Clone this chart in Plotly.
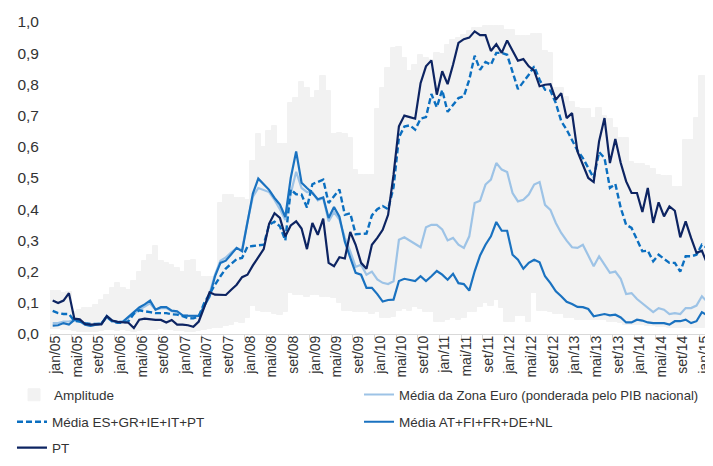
import plotly.graph_objects as go

MONTH_ABBR = ["jan", "fev", "mar", "abr", "mai", "jun", "jul", "ago", "set", "out", "nov", "dez"]
months = [f"{MONTH_ABBR[k % 12]}/{5 + k // 12:02d}" for k in range(122)]  # jan/05 .. fev/15

pt = [0.107, 0.099, 0.107, 0.131, 0.049, 0.047, 0.032, 0.030, 0.031, 0.031,
      0.057, 0.043, 0.039, 0.038, 0.036, 0.019, 0.046, 0.049, 0.046, 0.045,
      0.045, 0.037, 0.045, 0.030, 0.030, 0.028, 0.023, 0.040, 0.085, 0.134,
      0.126, 0.126, 0.125, 0.142, 0.158, 0.182, 0.190, 0.220, 0.246, 0.272,
      0.353, 0.387, 0.372, 0.313, 0.348, 0.361, 0.338, 0.272, 0.356, 0.318,
      0.370, 0.228, 0.217, 0.246, 0.242, 0.327, 0.286, 0.228, 0.209, 0.286,
      0.308, 0.334, 0.382, 0.510, 0.666, 0.700, 0.695, 0.690, 0.804, 0.858,
      0.877, 0.767, 0.842, 0.801, 0.863, 0.933, 0.945, 0.950, 0.970, 0.958,
      0.958, 0.907, 0.929, 0.901, 0.941, 0.906, 0.876, 0.881, 0.858, 0.844,
      0.794, 0.799, 0.801, 0.751, 0.772, 0.692, 0.708, 0.585, 0.543, 0.500,
      0.487, 0.618, 0.692, 0.548, 0.625, 0.548, 0.489, 0.452, 0.452, 0.391,
      0.468, 0.356, 0.422, 0.377, 0.409, 0.395, 0.310, 0.361, 0.308, 0.260,
      0.267, 0.224]

media_sul = [0.074, 0.067, 0.064, 0.064, 0.042, 0.040, 0.035, 0.032, 0.032, 0.033,
             0.055, 0.040, 0.036, 0.036, 0.041, 0.065, 0.076, 0.072, 0.070, 0.067,
             0.067, 0.067, 0.063, 0.062, 0.057, 0.051, 0.050, 0.056, 0.099, 0.130,
             0.158, 0.185, 0.210, 0.225, 0.240, 0.244, 0.280, 0.282, 0.284, 0.286,
             0.350, 0.360, 0.345, 0.300, 0.463, 0.448, 0.447, 0.405, 0.480, 0.487,
             0.495, 0.420, 0.440, 0.463, 0.382, 0.387, 0.320, 0.322, 0.322, 0.380,
             0.400, 0.410, 0.400, 0.470, 0.630, 0.665, 0.669, 0.655, 0.690, 0.695,
             0.769, 0.727, 0.782, 0.712, 0.735, 0.756, 0.762, 0.815, 0.892, 0.847,
             0.872, 0.863, 0.901, 0.901, 0.895, 0.840, 0.785, 0.808, 0.831, 0.858,
             0.815, 0.783, 0.780, 0.740, 0.682, 0.655, 0.623, 0.588, 0.564, 0.534,
             0.500, 0.583, 0.564, 0.468, 0.481, 0.404, 0.350, 0.340, 0.302, 0.265,
             0.267, 0.233, 0.254, 0.241, 0.228, 0.228, 0.200, 0.249, 0.249, 0.254,
             0.286, 0.276]

media_norte = [0.027, 0.028, 0.035, 0.030, 0.045, 0.042, 0.030, 0.026, 0.030, 0.033,
               0.058, 0.042, 0.038, 0.040, 0.055, 0.070, 0.085, 0.095, 0.107, 0.078,
               0.086, 0.086, 0.075, 0.073, 0.060, 0.059, 0.059, 0.058, 0.089, 0.120,
               0.185, 0.228, 0.235, 0.255, 0.276, 0.265, 0.360, 0.450, 0.498, 0.480,
               0.462, 0.436, 0.415, 0.375, 0.500, 0.585, 0.485, 0.468, 0.452, 0.432,
               0.438, 0.372, 0.407, 0.376, 0.296, 0.245, 0.196, 0.190, 0.148, 0.148,
               0.128, 0.104, 0.109, 0.110, 0.170, 0.177, 0.173, 0.170, 0.185, 0.170,
               0.185, 0.202, 0.190, 0.174, 0.193, 0.163, 0.160, 0.139, 0.201, 0.252,
               0.286, 0.313, 0.359, 0.331, 0.331, 0.254, 0.238, 0.209, 0.228, 0.238,
               0.230, 0.185, 0.163, 0.137, 0.121, 0.103, 0.096, 0.087, 0.086, 0.080,
               0.057, 0.060, 0.064, 0.060, 0.062, 0.053, 0.037, 0.037, 0.046, 0.043,
               0.037, 0.035, 0.035, 0.035, 0.030, 0.041, 0.041, 0.046, 0.035, 0.041,
               0.070, 0.060]

media_ze = [0.035, 0.035, 0.040, 0.040, 0.045, 0.040, 0.030, 0.027, 0.030, 0.033,
            0.056, 0.042, 0.038, 0.040, 0.052, 0.065, 0.078, 0.088, 0.098, 0.078,
            0.083, 0.083, 0.073, 0.070, 0.060, 0.058, 0.058, 0.057, 0.090, 0.130,
            0.190, 0.235, 0.245, 0.262, 0.275, 0.270, 0.360, 0.440, 0.468, 0.462,
            0.455, 0.430, 0.400, 0.365, 0.450, 0.520, 0.468, 0.455, 0.455, 0.428,
            0.436, 0.361, 0.391, 0.367, 0.308, 0.265, 0.215, 0.222, 0.190, 0.200,
            0.175, 0.164, 0.160, 0.169, 0.302, 0.310, 0.300, 0.290, 0.278, 0.342,
            0.350, 0.350, 0.335, 0.300, 0.308, 0.286, 0.276, 0.313, 0.420, 0.427,
            0.479, 0.495, 0.548, 0.527, 0.519, 0.452, 0.425, 0.430, 0.447, 0.479,
            0.487, 0.414, 0.398, 0.356, 0.324, 0.299, 0.278, 0.276, 0.286, 0.252,
            0.217, 0.249, 0.222, 0.196, 0.200, 0.177, 0.128, 0.131, 0.112, 0.097,
            0.083, 0.070, 0.083, 0.078, 0.064, 0.067, 0.064, 0.083, 0.083, 0.091,
            0.121, 0.103]

amp_max = [0.137, 0.137, 0.131, 0.135, 0.072, 0.078, 0.083, 0.083, 0.094, 0.110,
           0.126, 0.147, 0.163, 0.147, 0.142, 0.169, 0.200, 0.233, 0.254, 0.281,
           0.233, 0.228, 0.222, 0.212, 0.200, 0.233, 0.238, 0.200, 0.182, 0.182,
           0.182, 0.420, 0.446, 0.446, 0.435, 0.435, 0.430, 0.553, 0.641, 0.600,
           0.650, 0.666, 0.610, 0.610, 0.740, 0.758, 0.808, 0.788, 0.756, 0.780,
           0.826, 0.780, 0.640, 0.644, 0.640, 0.628, 0.527, 0.510, 0.510, 0.510,
           0.720, 0.790, 0.853, 0.917, 0.919, 0.885, 0.842, 0.863, 0.893, 0.885,
           0.879, 0.901, 0.896, 0.927, 0.943, 0.949, 0.959, 0.970, 0.981, 0.981,
           0.986, 0.986, 0.986, 0.986, 0.975, 0.975, 0.955, 0.955, 0.955, 0.960,
           0.960, 0.906, 0.900, 0.790, 0.790, 0.760, 0.745, 0.724, 0.720, 0.720,
           0.692, 0.724, 0.700, 0.690, 0.660, 0.628, 0.628, 0.550, 0.545, 0.545,
           0.540, 0.530, 0.510, 0.505, 0.505, 0.470, 0.470, 0.623, 0.623, 0.692,
           0.826, 0.826]

amp_min = [0.015, 0.015, 0.012, 0.012, 0.010, 0.008, 0.005, 0.005, 0.008, 0.010,
           0.012, 0.012, 0.010, 0.012, 0.010, 0.005, 0.010, 0.012, 0.012, 0.012,
           0.015, 0.012, 0.012, 0.010, 0.010, 0.008, 0.008, 0.010, 0.012, 0.015,
           0.020, 0.020, 0.025, 0.030, 0.040, 0.035, 0.050, 0.090, 0.075, 0.070,
           0.070, 0.065, 0.060, 0.070, 0.130, 0.125, 0.125, 0.120, 0.125, 0.125,
           0.120, 0.120, 0.115, 0.100, 0.075, 0.075, 0.070, 0.070, 0.070, 0.065,
           0.070, 0.050, 0.050, 0.055, 0.075, 0.080, 0.075, 0.085, 0.080, 0.070,
           0.070, 0.040, 0.040, 0.045, 0.050, 0.045, 0.050, 0.070, 0.070, 0.085,
           0.100, 0.090, 0.110, 0.083, 0.040, 0.040, 0.057, 0.057, 0.040, 0.131,
           0.073, 0.073, 0.070, 0.063, 0.063, 0.051, 0.050, 0.046, 0.046, 0.046,
           0.046, 0.046, 0.046, 0.040, 0.040, 0.035, 0.030, 0.030, 0.028, 0.028,
           0.025, 0.025, 0.022, 0.022, 0.020, 0.020, 0.020, 0.020, 0.018, 0.018,
           0.020, 0.020]

y_ticks = [0.0, 0.1, 0.2, 0.3, 0.4, 0.5, 0.6, 0.7, 0.8, 0.9, 1.0]

x = list(range(len(months)))
label_idx = list(range(0, len(months), 4))
label_text = [months[k] for k in label_idx]
label_pos = [k + 0.5 for k in label_idx]       # labels sit slightly right of the month
boundary_ticks = [k - 0.5 for k in label_idx]  # tick marks between categories

FONT = "Liberation Sans, Arial, sans-serif"
TXT = "#333333"

fig = go.Figure()
fig.add_trace(go.Bar(
    x=x, y=[hi - lo for hi, lo in zip(amp_max, amp_min)], base=amp_min, width=1.0,
    marker=dict(color="#f2f2f2", line=dict(width=1, color="#f2f2f2")),
    name="Amplitude", legend="legend", hoverinfo="skip"))
fig.add_trace(go.Scatter(
    x=x, y=media_ze, mode="lines", line=dict(color="#9dc3e6", width=2.2),
    name="Média da Zona Euro (ponderada pelo PIB nacional)", legend="legend4"))
fig.add_trace(go.Scatter(
    x=x, y=media_norte, mode="lines", line=dict(color="#1a72c0", width=2.2),
    name="Média AT+FI+FR+DE+NL", legend="legend5"))
fig.add_trace(go.Scatter(
    x=x, y=media_sul, mode="lines", line=dict(color="#0b6fc0", width=2.4, dash="6px,3px"),
    name="Média ES+GR+IE+IT+PT", legend="legend2"))
fig.add_trace(go.Scatter(
    x=x, y=pt, mode="lines", line=dict(color="#0d2462", width=2.2),
    name="PT", legend="legend3"))

leg_common = dict(orientation="h", xanchor="left", yanchor="middle",
                  bgcolor="rgba(0,0,0,0)")
leg_font = dict(family=FONT, size=13.5, color=TXT)

ROW1, ROW2, ROW3 = -0.1955, -0.282, -0.365
LEFT_A, LEFT, RIGHT = -0.0545, -0.0576, 0.4682

fig.update_layout(
    width=713, height=466,
    margin=dict(l=42, r=11, t=14, b=140, autoexpand=False),
    plot_bgcolor="white", paper_bgcolor="white",
    separators=", ", bargap=0, showlegend=True,
    font=dict(family=FONT, color=TXT),
    legend=dict(y=ROW1, x=LEFT_A, font=leg_font, **leg_common),
    legend4=dict(y=ROW1, x=RIGHT, font=dict(family=FONT, size=13.1, color=TXT), **leg_common),
    legend2=dict(y=ROW2, x=LEFT, font=leg_font, **leg_common),
    legend5=dict(y=ROW2, x=RIGHT, font=leg_font, **leg_common),
    legend3=dict(y=ROW3, x=LEFT, font=leg_font, **leg_common),
    xaxis=dict(range=[-0.5, 121.5], tickmode="array", tickvals=label_pos, ticktext=label_text,
               tickangle=-90, ticks="", showline=True, linecolor="#d9d9d9", linewidth=1,
               ticklabelstandoff=-5,
               showgrid=False, zeroline=False, tickfont=dict(family=FONT, size=14, color=TXT),
               minor=dict(tickmode="array", tickvals=boundary_ticks, ticks="outside",
                          ticklen=5, tickcolor="#d9d9d9", tickwidth=1, showgrid=False)),
    yaxis=dict(range=[0, 1.0], tickmode="array", tickvals=y_ticks, tickformat=".1f",
               showgrid=False, zeroline=False, showline=False, ticks="",
               ticklabelstandoff=10, tickfont=dict(family=FONT, size=15.5, color=TXT)),
)

fig.write_html("out.html")
